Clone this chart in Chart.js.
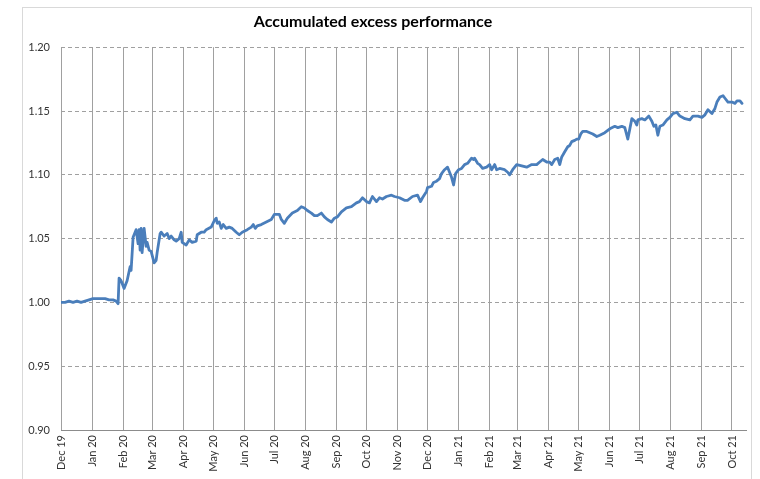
<!DOCTYPE html>
<html>
<head>
<meta charset="utf-8">
<title>Accumulated excess performance</title>
<script src="https://cdn.jsdelivr.net/npm/chart.js@4.4.0/dist/chart.umd.min.js"></script>
<style>
    html, body { margin: 0; padding: 0; background: #fff; }
</style>
</head>
<body>
<canvas id="chart" width="760" height="479"></canvas>
<script>
// days counted from 1 Dec 2019
let monthDays = [0, 31, 62, 91, 122, 152, 183, 213, 244, 275, 305, 336, 366,
    397, 428, 456, 487, 517, 548, 578, 609, 640, 670];
let monthLabels = ['Dec 19', 'Jan 20', 'Feb 20', 'Mar 20', 'Apr 20', 'May 20', 'Jun 20',
    'Jul 20', 'Aug 20', 'Sep 20', 'Oct 20', 'Nov 20', 'Dec 20', 'Jan 21', 'Feb 21',
    'Mar 21', 'Apr 21', 'May 21', 'Jun 21', 'Jul 21', 'Aug 21', 'Sep 21', 'Oct 21'];

let days = [0, 4, 8, 12, 16, 20, 24, 28, 32, 36, 40, 44, 48, 52, 55, 57, 58, 60, 63, 66,
    69, 70, 72, 75, 77, 78, 79, 80, 81, 83, 85, 86, 88, 90, 93, 95, 96, 99, 100, 103,
    106, 108, 110, 113, 115, 118, 120, 121, 125, 128, 131, 135, 136, 140, 143, 145, 150, 153,
    155, 156, 158, 160, 162, 165, 168, 171, 175, 178, 181, 186, 190, 192, 194, 196, 200, 205,
    210, 213, 218, 220, 223, 226, 231, 236, 240, 243, 246, 250, 253, 256, 260, 263, 266, 270,
    273, 276, 280, 285, 290, 295, 298, 301, 305, 308, 311, 315, 318, 321, 325, 330, 333, 338,
    343, 346, 351, 356, 359, 361, 365, 366, 370, 372, 375, 378, 380, 383, 386, 388, 390, 392,
    394, 397, 400, 403, 406, 410, 412, 413, 416, 418, 421, 425, 428, 430, 433, 435, 438, 443,
    446, 448, 451, 455, 460, 465, 470, 475, 478, 481, 485, 488, 490, 493, 496, 498, 500, 503,
    506, 508, 510, 513, 515, 517, 519, 521, 525, 528, 531, 535, 538, 543, 548, 553, 556, 560,
    563, 566, 568, 570, 573, 575, 576, 580, 583, 587, 590, 592, 594, 596, 598, 601, 605, 608,
    611, 615, 618, 623, 628, 631, 636, 640, 643, 646, 650, 653, 655, 658, 661, 663, 666, 670,
    673, 675, 678, 680];
let values = [1.000, 1.000, 1.001, 1.000, 1.001, 1.000, 1.001, 1.002, 1.003, 1.003, 1.003, 1.003,
    1.002, 1.002, 1.001, 0.999, 1.019, 1.017, 1.011, 1.017, 1.028, 1.025, 1.051, 1.057, 1.046,
    1.057, 1.041, 1.058, 1.039, 1.058, 1.044, 1.047, 1.041, 1.040, 1.031, 1.033, 1.039, 1.054,
    1.055, 1.052, 1.054, 1.050, 1.052, 1.049, 1.048, 1.050, 1.055, 1.047, 1.045, 1.049, 1.047,
    1.048, 1.053, 1.055, 1.055, 1.057, 1.059, 1.064, 1.066, 1.062, 1.063, 1.058, 1.061, 1.058,
    1.059, 1.058, 1.055, 1.053, 1.055, 1.057, 1.059, 1.061, 1.058, 1.060, 1.061, 1.063, 1.065,
    1.069, 1.069, 1.065, 1.062, 1.066, 1.070, 1.072, 1.075, 1.074, 1.072, 1.070, 1.068, 1.068,
    1.070, 1.067, 1.065, 1.063, 1.066, 1.067, 1.071, 1.074, 1.075, 1.078, 1.079, 1.082, 1.079,
    1.078, 1.083, 1.079, 1.082, 1.081, 1.083, 1.084, 1.083, 1.082, 1.080, 1.080, 1.083, 1.084,
    1.079, 1.082, 1.087, 1.090, 1.091, 1.094, 1.095, 1.097, 1.101, 1.104, 1.106, 1.102, 1.098,
    1.092, 1.101, 1.104, 1.105, 1.108, 1.109, 1.113, 1.112, 1.113, 1.109, 1.108, 1.105, 1.106,
    1.108, 1.104, 1.108, 1.104, 1.105, 1.104, 1.102, 1.100, 1.104, 1.108, 1.107, 1.106, 1.108,
    1.108, 1.110, 1.112, 1.110, 1.110, 1.108, 1.112, 1.113, 1.108, 1.114, 1.118, 1.122, 1.123,
    1.126, 1.127, 1.128, 1.128, 1.132, 1.134, 1.134, 1.133, 1.132, 1.130, 1.131, 1.133, 1.136,
    1.138, 1.137, 1.138, 1.137, 1.128, 1.136, 1.144, 1.142, 1.139, 1.143, 1.144, 1.143, 1.146,
    1.142, 1.138, 1.139, 1.131, 1.138, 1.139, 1.143, 1.145, 1.148, 1.149, 1.146, 1.144, 1.143,
    1.146, 1.146, 1.145, 1.147, 1.151, 1.148, 1.152, 1.157, 1.161, 1.162, 1.160, 1.157, 1.157,
    1.156, 1.158, 1.158, 1.156];

let yTicks = [0.90, 0.95, 1.00, 1.05, 1.10, 1.15, 1.20];

let tickFont = { family: 'Lato', size: 11 };

// light frame around the whole chart, like the spreadsheet chart box
let frame = {
    id: 'frame',
    beforeDraw: function (chart) {
        let ctx = chart.ctx;
        ctx.save();
        ctx.fillStyle = '#fff';
        ctx.fillRect(0, 0, chart.width, chart.height);
        ctx.strokeStyle = '#d9d9d9';
        ctx.lineWidth = 1;
        ctx.strokeRect(22.5, 7.5, 729, 490);
        ctx.restore();
    }
};

let createChart = function () {
    let points = days.map((d, i) => ({ x: d, y: values[i] }));

    new Chart(document.getElementById('chart'), {
        type: 'line',
        data: {
            datasets: [{
                label: 'Accumulated excess performance',
                data: points,
                borderColor: '#4a7ebb',
                borderWidth: 2.8,
                borderJoinStyle: 'round',
                borderCapStyle: 'round',
                pointRadius: 0,
                fill: false,
                tension: 0
            }]
        },
        options: {
            responsive: false,
            animation: false,
            layout: { padding: { left: 0, right: 14, top: 0, bottom: 0 } },
            plugins: {
                legend: { display: false },
                tooltip: { enabled: false },
                title: {
                    display: true,
                    text: 'Accumulated excess performance',
                    color: '#000',
                    font: { family: 'Lato', size: 16, weight: 'bold' },
                    padding: { top: 12, bottom: 16 }
                }
            },
            scales: {
                x: {
                    type: 'linear',
                    min: 0,
                    max: 684,
                    afterBuildTicks: function (scale) {
                        scale.ticks = monthDays.map(d => ({ value: d }));
                    },
                    afterFit: function (scale) {
                        scale.height = 49;
                    },
                    ticks: {
                        autoSkip: false,
                        minRotation: 90,
                        maxRotation: 90,
                        padding: 5,
                        color: '#333',
                        font: tickFont,
                        callback: function (value) {
                            return monthLabels[monthDays.indexOf(value)];
                        }
                    },
                    grid: { color: '#a0a0a0', lineWidth: 1, drawTicks: false },
                    border: { color: '#8c8c8c', width: 1 }
                },
                y: {
                    min: 0.9,
                    max: 1.2,
                    afterBuildTicks: function (scale) {
                        scale.ticks = yTicks.map(v => ({ value: v }));
                    },
                    afterFit: function (scale) {
                        scale.width = 61;
                    },
                    ticks: {
                        padding: 11,
                        color: '#333',
                        font: tickFont,
                        callback: function (value) {
                            return value.toFixed(2);
                        }
                    },
                    grid: { color: '#a0a0a0', lineWidth: 1, drawTicks: false },
                    border: { display: false, dash: [4, 3] }
                }
            }
        },
        plugins: [frame]
    });
}

createChart();
</script>
</body>
</html>
